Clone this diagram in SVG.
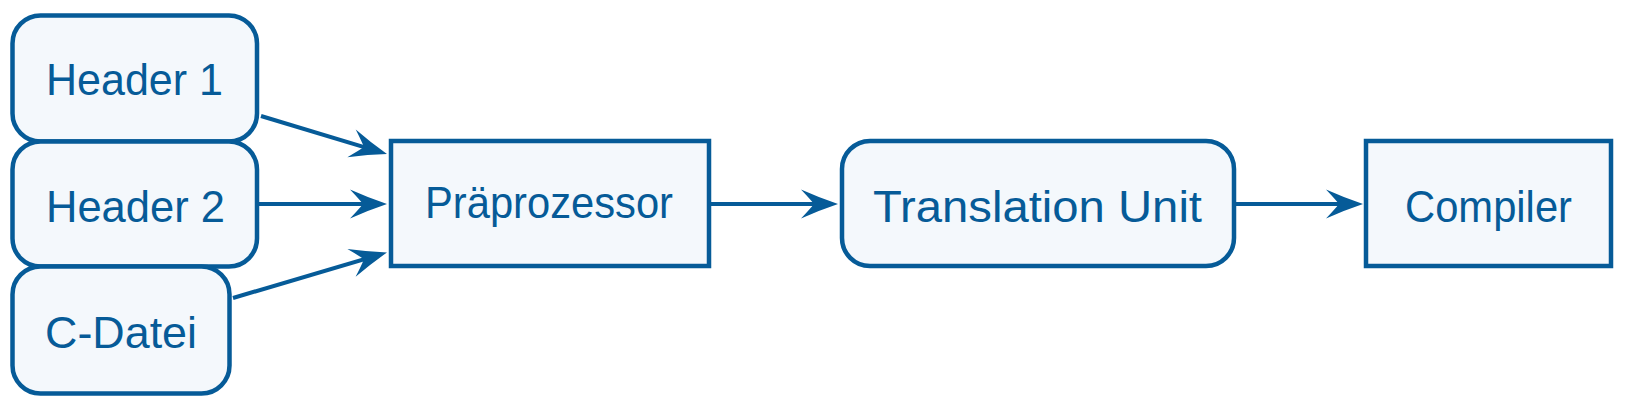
<svg xmlns="http://www.w3.org/2000/svg" width="1634" height="404" viewBox="0 0 1634 404">
<style>
.box{fill:#f4f8fc;stroke:#065b98;stroke-width:4.5}
.lbl{font-family:"Liberation Sans",Arial,sans-serif;font-size:45px;fill:#065b98}
.edge{fill:none;stroke:#065b98;stroke-width:4}
</style>
<defs>
<marker id="arr" markerUnits="userSpaceOnUse" viewBox="-30 -16 42 32" refX="0" refY="0" markerWidth="42" markerHeight="32" orient="auto">
<path d="M10,0 Q-8,-6 -27,-14.5 Q-18,-5 -14,0 Q-18,5 -27,14.5 Q-8,6 10,0 Z" fill="#065b98"/>
</marker>
</defs>
<g id="header1">
<rect class="box" x="12.5" y="15.5" width="244.5" height="126" rx="28"/>
<text class="lbl" x="46" y="95" textLength="177" lengthAdjust="spacingAndGlyphs">Header 1</text>
</g>
<g id="header2">
<rect class="box" x="12.5" y="141.5" width="244.5" height="125" rx="28"/>
<text class="lbl" x="46" y="221.5" textLength="179" lengthAdjust="spacingAndGlyphs">Header 2</text>
</g>
<g id="cdatei">
<rect class="box" x="12.5" y="266.5" width="217" height="127" rx="28"/>
<text class="lbl" x="45" y="348" textLength="152" lengthAdjust="spacingAndGlyphs">C-Datei</text>
</g>
<g id="praeprozessor">
<rect class="box" x="391" y="141" width="318" height="125"/>
<text class="lbl" x="425" y="217.5" textLength="248" lengthAdjust="spacingAndGlyphs">Präprozessor</text>
</g>
<g id="translationunit">
<rect class="box" x="842" y="141" width="392" height="125" rx="28"/>
<text class="lbl" x="873" y="221.5" textLength="329" lengthAdjust="spacingAndGlyphs">Translation Unit</text>
</g>
<g id="compiler">
<rect class="box" x="1366" y="141" width="245" height="125"/>
<text class="lbl" x="1405" y="221.5" textLength="167" lengthAdjust="spacingAndGlyphs">Compiler</text>
</g>
<g id="edges">
<path class="edge" d="M261,116 L377.4,151.1" marker-end="url(#arr)"/>
<path class="edge" d="M259,204 L377,204" marker-end="url(#arr)"/>
<path class="edge" d="M233,298 L377.4,255.3" marker-end="url(#arr)"/>
<path class="edge" d="M711,204 L828,204" marker-end="url(#arr)"/>
<path class="edge" d="M1236,204 L1353,204" marker-end="url(#arr)"/>
</g>
</svg>
